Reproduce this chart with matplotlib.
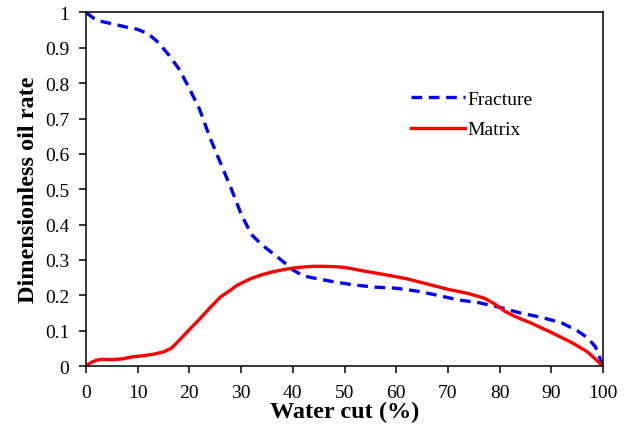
import numpy as np
import matplotlib
matplotlib.use('Agg')
import matplotlib.pyplot as plt

# water cut (%) and dimensionless oil rate
frac_x = [0, 2, 5, 8, 10, 12, 14, 16, 18, 20, 22, 24, 26, 28, 30, 32, 34, 36, 38, 40,
          42, 44, 48, 52, 56, 60, 64, 68, 72, 76, 80, 84, 88, 92, 95, 97, 98.5, 100]
frac_y = [1.0, 0.978, 0.968, 0.958, 0.952, 0.94, 0.915, 0.88, 0.84, 0.785, 0.725, 0.645,
          0.575, 0.505, 0.43, 0.372, 0.343, 0.32, 0.297, 0.272, 0.255, 0.249, 0.238,
          0.229, 0.223, 0.22, 0.212, 0.2, 0.187, 0.179, 0.166, 0.15, 0.138, 0.122,
          0.1, 0.08, 0.055, 0.0]

mat_x = [0, 1, 2, 3, 5, 7, 9, 11, 13, 15, 16.5, 18, 20, 22, 24, 26, 28, 29, 30, 32, 34,
         36, 38, 40, 42, 44, 46, 48, 50, 54, 58, 62, 66, 70, 74, 77, 79, 81, 83, 86,
         90, 94, 97, 100]
mat_y = [0, 0.01, 0.016, 0.019, 0.018, 0.02, 0.026, 0.029, 0.033, 0.04, 0.05, 0.072,
         0.103, 0.133, 0.165, 0.195, 0.215, 0.226, 0.234, 0.248, 0.258, 0.266, 0.272,
         0.277, 0.28, 0.282, 0.282, 0.281, 0.279, 0.268, 0.258, 0.247, 0.232, 0.217,
         0.205, 0.192, 0.176, 0.155, 0.14, 0.122, 0.095, 0.066, 0.04, 0.0]

x_ticks = [0, 10, 20, 30, 40, 50, 60, 70, 80, 90, 100]
y_ticks = [0, 0.1, 0.2, 0.3, 0.4, 0.5, 0.6, 0.7, 0.8, 0.9, 1]
y_tick_labels = ['0', '0.1', '0.2', '0.3', '0.4', '0.5', '0.6', '0.7', '0.8', '0.9', '1']

plt.rcParams['font.family'] = ['Liberation Serif', 'DejaVu Serif']

fig = plt.figure(figsize=(6.29, 4.27), dpi=100)
ax = fig.add_axes([0.1367, 0.1405, 0.822, 0.828])

ax.plot(frac_x, frac_y, color='#0000ff', linewidth=2.4, linestyle=(0, (3.2, 2.0)),
        label='Fracture')
ax.plot(mat_x, mat_y, color='#ff0000', linewidth=2.4, label='Matrix')

ax.set_xlim(0, 100)
ax.set_ylim(0, 1)
ax.set_xticks(x_ticks)
ax.set_yticks(y_ticks)
ax.set_yticklabels(y_tick_labels)
ax.tick_params(direction='out', length=5, width=1.1, labelsize=14)
ax.tick_params(axis='x', pad=8)
ax.tick_params(axis='y', pad=7)
for sp in ax.spines.values():
    sp.set_linewidth(1.1)

ax.set_xlabel('Water cut (%)', fontsize=17.5, fontweight='bold', labelpad=0)
ax.set_ylabel('Dimensionless oil rate', fontsize=17.5, fontweight='bold', labelpad=4)

ax.legend(loc='upper left', bbox_to_anchor=(0.61, 0.808), frameon=False, fontsize=14,
          borderpad=0, handlelength=2.75, handletextpad=0.15, labelspacing=0.68)

fig.savefig('out.png', dpi=100)
